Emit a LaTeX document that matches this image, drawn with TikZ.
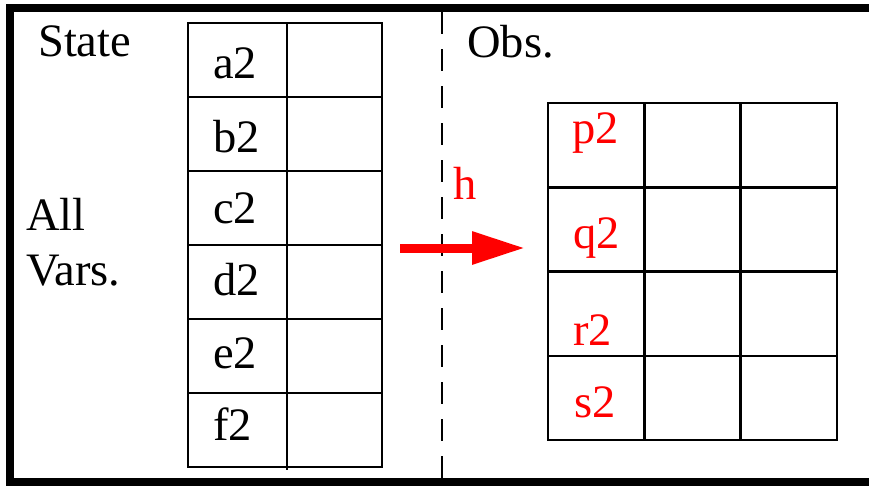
\documentclass[tikz,border=0pt]{standalone}
\usepackage{fontspec}
\setmainfont{Liberation Serif}
\usetikzlibrary{arrows.meta,positioning}

\tikzset{
  cell/.style={draw,line width=2.5pt,minimum width=#1,inner sep=0pt,outer sep=0pt,anchor=north west},
  lbl/.style={inner sep=0pt,anchor=base west,font=\fontsize{46.5}{54}\selectfont},
}

\begin{document}
\begin{tikzpicture}[x=1pt,y=-1pt,>=Stealth]
\useasboundingbox (0,0) rectangle (869,485);
% outer frame, open to the right
\draw[line width=8pt] (875,8) -- (10,8) -- (10,481.5) -- (875,481.5);
% state table
\begin{scope}
\node[lbl] (state) at (38,56) {State};
\node[lbl] (all) at (26,230) {All};
\node[lbl] (vars) at (26,285) {Vars.};
\foreach \v/\b [count=\i from 0] in {a2/78,b2/152,c2/223,d2/295,e2/368,f2/440} {
  \node[cell=99,minimum height=74] (L\i) at (188,23+74*\i) {};
  \node[cell=95,minimum height=74] (R\i) at (L\i.north east) {};
  \node[lbl] (t\i) at (213,\b) {\v};
}
\draw[line width=2.5pt] (R5.south west) -- ++(0,3);
\end{scope}
% separator and map h
\coordinate (sepTop) at (442,12);
\coordinate (sepBot) at (442,485);
\draw[line width=2.5pt,dash pattern=on 22pt off 15pt] (sepTop) -- (sepBot);
\node[lbl,red] (h) at (453,199) {h};
\coordinate (hs) at (400,248);
\coordinate (he) at (525,248);
\draw[red,line width=9pt,-{Triangle[length=53pt,width=31pt]}] (hs) -- (he);
% observation table
\begin{scope}
\node[lbl] (obs) at (467,57) {Obs.};
\foreach \v/\x/\b [count=\j from 0] in {p2/572/143,q2/573/248,r2/573/345,s2/574/417} {
  \foreach \k in {0,1,2}
    \node[cell=96.3,minimum height=84.25] (o\j\k) at (548+96.3*\k,103+84.25*\j) {};
  \node[lbl,red] (u\j) at (\x,\b) {\v};
}
\end{scope}
\end{tikzpicture}
\end{document}
